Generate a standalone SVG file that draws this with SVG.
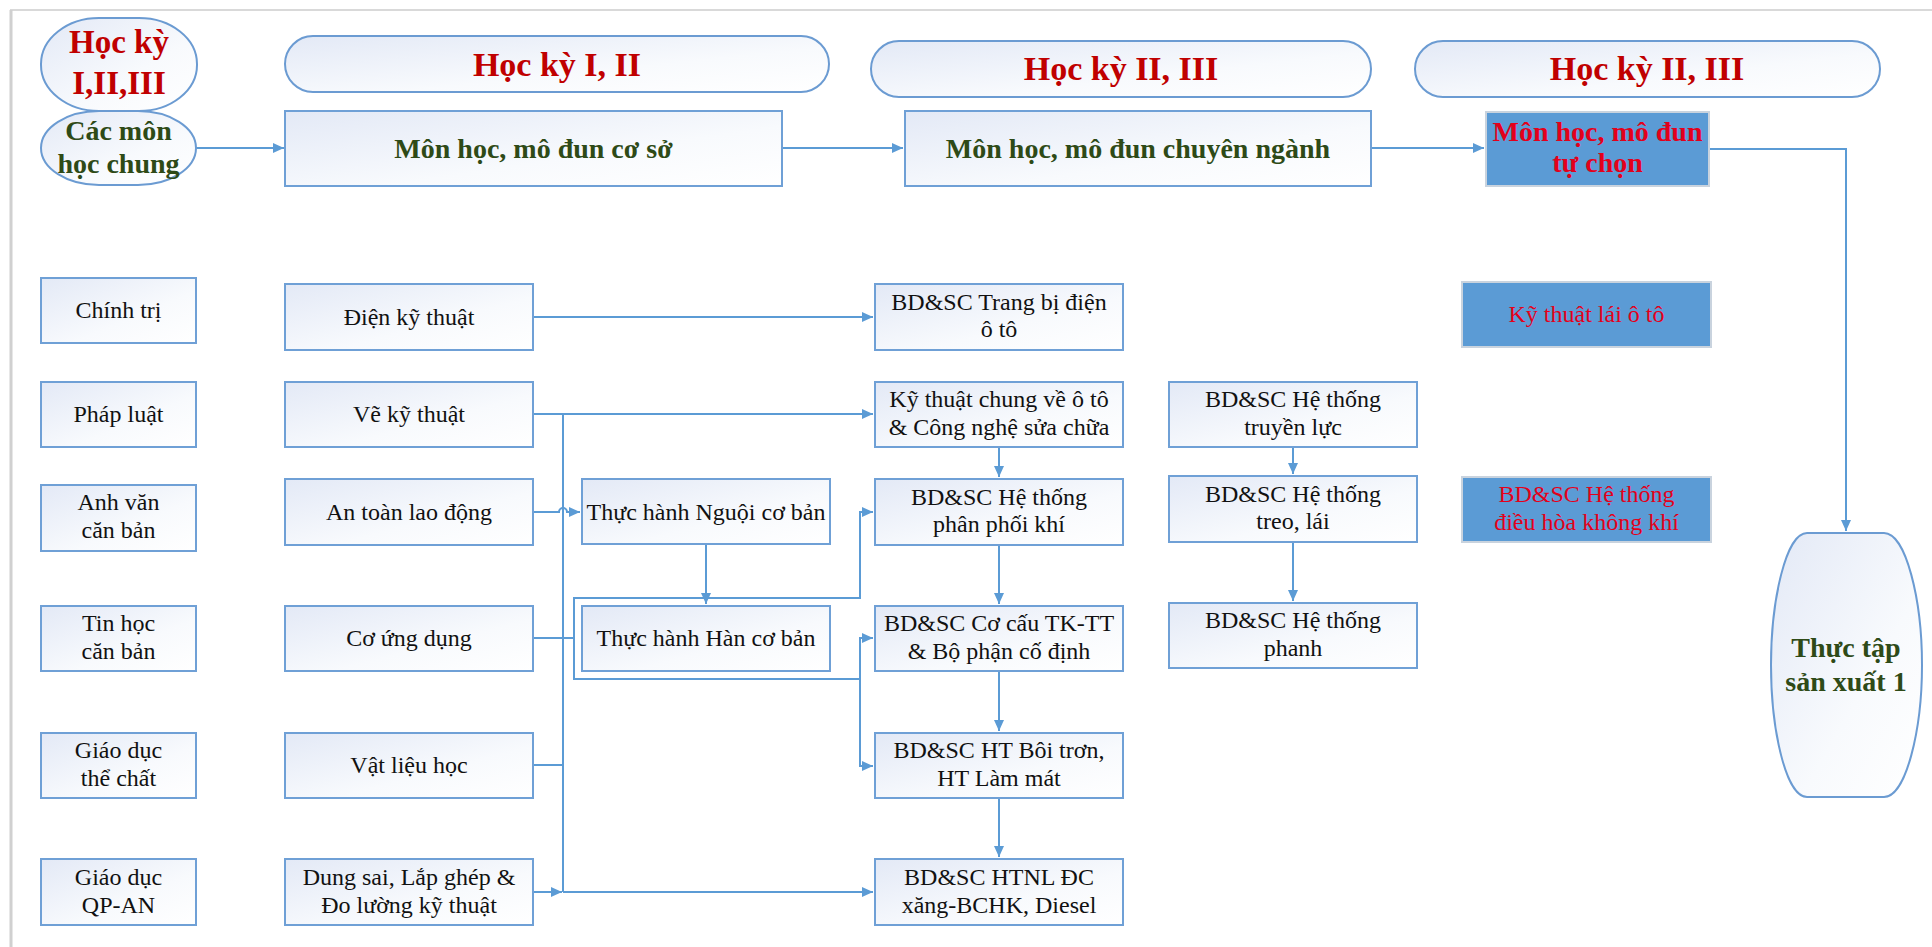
<svg xmlns="http://www.w3.org/2000/svg" width="1932" height="947" viewBox="0 0 1932 947">
<defs>
<linearGradient id="gf" x1="0" y1="0" x2="1" y2="1">
<stop offset="0" stop-color="#e3e9f6"/>
<stop offset="0.6" stop-color="#f8fafd"/>
<stop offset="1" stop-color="#ffffff"/>
</linearGradient>
<marker id="ah" markerUnits="userSpaceOnUse" markerWidth="12" markerHeight="10" refX="11" refY="5" orient="auto">
<path d="M0,0 L11,5 L0,10 Z" fill="#5b9bd5"/>
</marker>
<style>
.bx{fill:url(#gf);stroke:#6fa0d6;stroke-width:2}
.bl{fill:#5b9bd5;stroke:#c9d3de;stroke-width:2}
.sh{fill:url(#gf);stroke:#6b9bd2;stroke-width:2}
.t{font-family:"Liberation Serif","Times New Roman",serif;font-size:24px;fill:#111;text-anchor:middle}
.tr{font-family:"Liberation Serif","Times New Roman",serif;font-size:24px;fill:#e3001b;text-anchor:middle}
.hg{font-family:"Liberation Serif","Times New Roman",serif;font-size:28px;font-weight:bold;fill:#2e4a17;text-anchor:middle}
.hr{font-family:"Liberation Serif","Times New Roman",serif;font-size:34px;font-weight:bold;fill:#c00000;text-anchor:middle}
.hr2{font-family:"Liberation Serif","Times New Roman",serif;font-size:28px;font-weight:bold;fill:#e3001b;text-anchor:middle}
.c{fill:none;stroke:#5b9bd5;stroke-width:2}
.ca{fill:none;stroke:#5b9bd5;stroke-width:2;marker-end:url(#ah)}
</style>
</defs>
<rect x="0" y="0" width="1932" height="947" fill="#ffffff"/>
<line x1="10" y1="10" x2="1932" y2="10" stroke="#d9d9d9" stroke-width="2"/>
<line x1="11" y1="10" x2="11" y2="947" stroke="#d0d0d0" stroke-width="3"/>

<g id="connectors">
<path class="ca" d="M196,148 H284"/>
<path class="ca" d="M782,148 H903"/>
<path class="ca" d="M1371,148 H1484"/>
<path class="ca" d="M1709,149 H1846 V531"/>
<path class="ca" d="M533,317 H873"/>
<path class="ca" d="M533,414 H873"/>
<path class="c" d="M563,414 V892"/>
<path class="ca" d="M533,512 H559 A4,4 0 0 1 567,512 H580"/>
<path class="c" d="M533,638 H574"/>
<path class="c" d="M533,765 H563"/>
<path class="ca" d="M533,892 H562"/>
<path class="ca" d="M563,892 H873"/>
<path class="ca" d="M706,545 V604"/>
<path class="ca" d="M574,638 V598 H860 V512 H873"/>
<path class="ca" d="M574,638 V679 H860 V638 H873"/>
<path class="ca" d="M860,679 V766 H873"/>
<path class="ca" d="M999,447 V477"/>
<path class="ca" d="M999,545 V604"/>
<path class="ca" d="M999,671 V731"/>
<path class="ca" d="M999,798 V857"/>
<path class="ca" d="M1293,447 V474"/>
<path class="ca" d="M1293,542 V601"/>
</g>

<g id="hk123">
<rect class="sh" x="41" y="18" width="156" height="93" rx="58" ry="46"/>
<text class="hr" style="font-size:33px" x="119" y="53">Học kỳ</text>
<text class="hr" style="font-size:33px" x="119" y="94">I,II,III</text>
</g>
<g id="cacmon">
<rect class="sh" x="41" y="111" width="155" height="74" rx="58" ry="37"/>
<text class="hg" x="118.5" y="140">Các môn</text>
<text class="hg" x="118.5" y="173">học chung</text>
</g>
<g id="hk12">
<rect class="sh" x="285" y="36" width="544" height="56" rx="28" ry="28"/>
<text class="hr" x="557" y="76">Học kỳ I, II</text>
</g>
<g id="hk23a">
<rect class="sh" x="871" y="41" width="500" height="56" rx="28" ry="28"/>
<text class="hr" x="1121" y="80">Học kỳ II, III</text>
</g>
<g id="hk23b">
<rect class="sh" x="1415" y="41" width="465" height="56" rx="28" ry="28"/>
<text class="hr" x="1647" y="80">Học kỳ II, III</text>
</g>
<g id="coso">
<rect class="bx" x="285" y="111" width="497" height="75"/>
<text class="hg" x="533.5" y="158">Môn học, mô đun cơ sở</text>
</g>
<g id="chuyennganh">
<rect class="bx" x="905" y="111" width="466" height="75"/>
<text class="hg" x="1138" y="158">Môn học, mô đun chuyên ngành</text>
</g>
<g id="tuchon">
<rect class="bl" x="1486" y="112" width="223" height="74"/>
<text class="hr2" x="1597.5" y="141">Môn học, mô đun</text>
<text class="hr2" x="1597.5" y="172">tự chọn</text>
</g>
<g id="thuctap">
<path class="sh" d="M1807,533 H1884 C1906,533 1922,600 1922,665 C1922,730 1906,797 1884,797 H1807 C1786,797 1771,730 1771,665 C1771,600 1786,533 1807,533 Z"/>
<text class="hg" x="1846" y="657">Thực tập</text>
<text class="hg" x="1846" y="691">sản xuất 1</text>
</g>

<g id="chinhtri"><rect class="bx" x="41" y="278" width="155" height="65"/><text class="t" x="118.5" y="318">Chính trị</text></g>
<g id="phapluat"><rect class="bx" x="41" y="382" width="155" height="65"/><text class="t" x="118.5" y="422">Pháp luật</text></g>
<g id="anhvan"><rect class="bx" x="41" y="485" width="155" height="66"/><text class="t" x="118.5" y="510">Anh văn</text><text class="t" x="118.5" y="538">căn bản</text></g>
<g id="tinhoc"><rect class="bx" x="41" y="606" width="155" height="65"/><text class="t" x="118.5" y="631">Tin học</text><text class="t" x="118.5" y="659">căn bản</text></g>
<g id="gdtc"><rect class="bx" x="41" y="733" width="155" height="65"/><text class="t" x="118.5" y="758">Giáo dục</text><text class="t" x="118.5" y="786">thể chất</text></g>
<g id="gdqp"><rect class="bx" x="41" y="859" width="155" height="66"/><text class="t" x="118.5" y="885">Giáo dục</text><text class="t" x="118.5" y="913">QP-AN</text></g>

<g id="dienkt"><rect class="bx" x="285" y="284" width="248" height="66"/><text class="t" x="409" y="325">Điện kỹ thuật</text></g>
<g id="vekt"><rect class="bx" x="285" y="382" width="248" height="65"/><text class="t" x="409" y="422">Vẽ kỹ thuật</text></g>
<g id="antoan"><rect class="bx" x="285" y="479" width="248" height="66"/><text class="t" x="409" y="520">An toàn lao động</text></g>
<g id="coungdung"><rect class="bx" x="285" y="606" width="248" height="65"/><text class="t" x="409" y="646">Cơ ứng dụng</text></g>
<g id="vatlieu"><rect class="bx" x="285" y="733" width="248" height="65"/><text class="t" x="409" y="773">Vật liệu học</text></g>
<g id="dungsai"><rect class="bx" x="285" y="859" width="248" height="66"/><text class="t" x="409" y="885">Dung sai, Lắp ghép &amp;</text><text class="t" x="409" y="913">Đo lường kỹ thuật</text></g>

<g id="nguoi"><rect class="bx" x="582" y="479" width="248" height="65"/><text class="t" x="706" y="520">Thực hành Nguội cơ bản</text></g>
<g id="han"><rect class="bx" x="582" y="606" width="248" height="65"/><text class="t" x="706" y="646">Thực hành Hàn cơ bản</text></g>

<g id="trangbidien"><rect class="bx" x="875" y="284" width="248" height="66"/><text class="t" x="999" y="310">BD&amp;SC Trang bị điện</text><text class="t" x="999" y="337">ô tô</text></g>
<g id="ktchung"><rect class="bx" x="875" y="382" width="248" height="65"/><text class="t" x="999" y="407">Kỹ thuật chung về ô tô</text><text class="t" x="999" y="435">&amp; Công nghệ sửa chữa</text></g>
<g id="phanphoikhi"><rect class="bx" x="875" y="479" width="248" height="66"/><text class="t" x="999" y="505">BD&amp;SC Hệ thống</text><text class="t" x="999" y="532">phân phối khí</text></g>
<g id="cocau"><rect class="bx" x="875" y="606" width="248" height="65"/><text class="t" x="999" y="631">BD&amp;SC Cơ cấu TK-TT</text><text class="t" x="999" y="659">&amp; Bộ phận cố định</text></g>
<g id="boitron"><rect class="bx" x="875" y="733" width="248" height="65"/><text class="t" x="999" y="758">BD&amp;SC HT Bôi trơn,</text><text class="t" x="999" y="786">HT Làm mát</text></g>
<g id="htnl"><rect class="bx" x="875" y="859" width="248" height="66"/><text class="t" x="999" y="885">BD&amp;SC HTNL ĐC</text><text class="t" x="999" y="913">xăng-BCHK, Diesel</text></g>

<g id="truyenluc"><rect class="bx" x="1169" y="382" width="248" height="65"/><text class="t" x="1293" y="407">BD&amp;SC Hệ thống</text><text class="t" x="1293" y="435">truyền lực</text></g>
<g id="treolai"><rect class="bx" x="1169" y="476" width="248" height="66"/><text class="t" x="1293" y="502">BD&amp;SC Hệ thống</text><text class="t" x="1293" y="529">treo, lái</text></g>
<g id="phanh"><rect class="bx" x="1169" y="603" width="248" height="65"/><text class="t" x="1293" y="628">BD&amp;SC Hệ thống</text><text class="t" x="1293" y="656">phanh</text></g>

<g id="laioto"><rect class="bl" x="1462" y="282" width="249" height="65"/><text class="tr" x="1586.5" y="322">Kỹ thuật lái ô tô</text></g>
<g id="dieuhoa"><rect class="bl" x="1462" y="477" width="249" height="65"/><text class="tr" x="1586.5" y="502">BD&amp;SC Hệ thống</text><text class="tr" x="1586.5" y="530">điều hòa không khí</text></g>
</svg>
